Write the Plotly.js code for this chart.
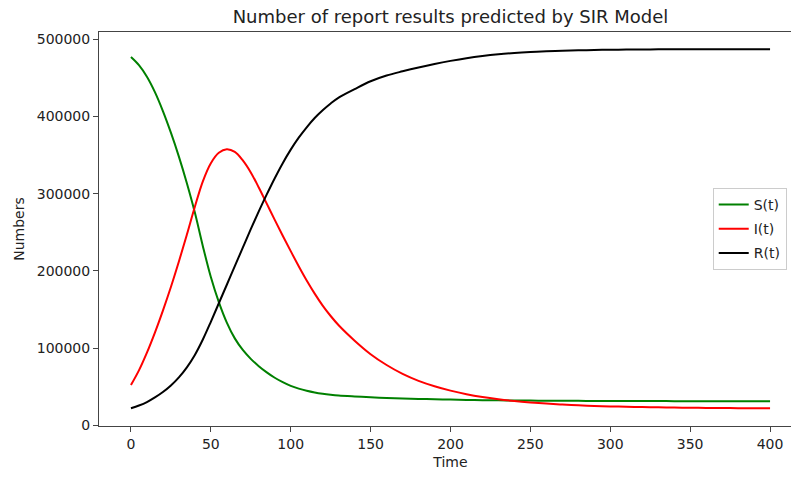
<!DOCTYPE html>
<html>
<head>
<meta charset="utf-8">
<script src="https://cdn.plot.ly/plotly-3.0.1.min.js"></script>
<style>
html, body { margin: 0; padding: 0; overflow: hidden; background: #fff; width: 791px; height: 477px; }
#chart { width: 810px; height: 477px; }
</style>
</head>
<body>
<div id="chart"></div>
<script>
const time = [0, 5, 10, 15, 20, 25, 30, 35, 40, 45, 50, 55, 60, 65, 70, 75, 80, 85, 90, 95, 100, 105, 110, 115, 120, 125, 130,
  140, 150, 160, 170, 180, 190, 200, 210, 220, 230, 240, 250, 260, 270, 280, 290, 300, 310, 320, 330, 340, 350, 360, 370, 380, 390, 400];
const susceptible = [477000, 466500, 451500, 431500, 407000, 379000, 348000, 313500, 275500, 232000, 192000, 159500, 133000, 112500, 97500, 86000, 76500, 68500, 61500, 55800, 51000, 47400, 44600, 42400, 40700, 39400, 38400,
  37200, 36200, 35400, 34700, 34100, 33600, 33200, 32800, 32500, 32250, 32050, 31900, 31750, 31650, 31550, 31480, 31420, 31360, 31300, 31260, 31220, 31190, 31160, 31130, 31110, 31100, 31100];
const infected = [52000, 71000, 94000, 120000, 148500, 179000, 212000, 247000, 283000, 316000, 339500, 353000, 357500, 354000, 343000, 327500, 308000, 287000, 266000, 245500, 225500, 206000, 187500, 170500, 155000, 141500, 129500,
  109500, 92000, 78000, 66500, 57500, 50500, 44800, 40200, 36500, 33600, 31300, 29500, 28000, 26800, 25800, 25000, 24400, 23900, 23500, 23150, 22850, 22600, 22400, 22250, 22120, 22050, 22000];
const recovered = [22000, 25500, 30000, 36000, 43000, 51500, 62000, 75000, 91000, 111000, 134000, 158000, 182000, 206000, 230000, 254000, 277000, 299000, 320000, 339500, 357000, 372500, 386000, 398000, 408000, 416800, 424500,
  435500, 445600, 453000, 458500, 463500, 468000, 472000, 475500, 478300, 480500, 482200, 483500, 484500, 485200, 485700, 486100, 486400, 486600, 486800, 486900, 487000, 487000, 487000, 487000, 487000, 487000, 487000];
const seriesNames = ['S(t)', 'I(t)', 'R(t)'];
const xTicks = [0, 50, 100, 150, 200, 250, 300, 350, 400];
const yTicks = [0, 100000, 200000, 300000, 400000, 500000];

const colors = ['green', 'red', 'black'];
const values = [susceptible, infected, recovered];
const traces = values.map((v, i) => ({
  x: time, y: v, type: 'scatter', mode: 'lines', name: seriesNames[i],
  legendgroup: 'g' + i,
  line: { color: colors[i], width: 2, shape: 'spline', smoothing: 1 }
}));

const axisFont = { family: 'DejaVu Sans, sans-serif', size: 14, color: '#222' };
const layout = {
  width: 810, height: 477,
  margin: { l: 99, r: 8, t: 32, b: 51 },
  paper_bgcolor: '#fff', plot_bgcolor: '#fff',
  font: axisFont,
  title: { text: 'Number of report results predicted by SIR Model', x: 0.5, xref: 'paper', y: 1 - 17 / 477, yref: 'container', yanchor: 'middle', xanchor: 'center', font: { family: 'DejaVu Sans, sans-serif', size: 18, color: '#222' } },
  xaxis: {
    range: [-20, 420], tickvals: xTicks, ticktext: xTicks.map(String),
    showgrid: false, zeroline: false, showline: true, mirror: true, linecolor: '#444', linewidth: 1,
    ticks: 'outside', ticklen: 5, tickcolor: '#444', tickfont: axisFont,
    title: { text: 'Time', font: axisFont, standoff: 6 }
  },
  yaxis: {
    range: [-1000, 509400], tickvals: yTicks, ticktext: yTicks.map(String),
    showgrid: false, zeroline: false, showline: true, mirror: true, linecolor: '#444', linewidth: 1,
    ticks: 'outside', ticklen: 5, tickcolor: '#444', tickfont: axisFont,
    title: { text: 'Numbers', font: axisFont, standoff: 8 }
  },
  legend: {
    x: 0.873, xanchor: 'left', y: 0.5, yanchor: 'middle',
    bgcolor: '#fff', bordercolor: '#ccc', borderwidth: 1,
    font: axisFont, traceorder: 'grouped', tracegroupgap: 3
  },
  showlegend: true
};
Plotly.newPlot('chart', traces, layout, { displayModeBar: false, staticPlot: true });
</script>
</body>
</html>
